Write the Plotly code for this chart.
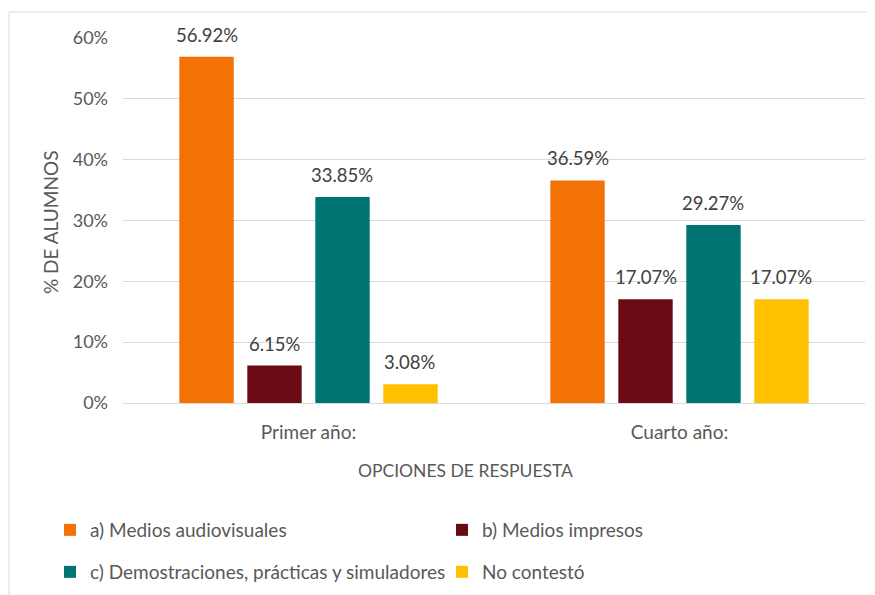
import plotly.graph_objects as go

categories = ["Primer año:", "Cuarto año:"]
series_names = ["a) Medios audiovisuales", "b) Medios impresos",
                "c) Demostraciones, prácticas y simuladores", "No contestó"]
values = [
    [0.5692, 0.3659],
    [0.0615, 0.1707],
    [0.3385, 0.2927],
    [0.0308, 0.1707],
]
colors = ["#F37206", "#6B0A14", "#007472", "#FFC000"]
legend_ids = ["legend", "legend", "legend2", "legend2"]

FONT = "Lato"
# page has an 8px body margin; compensate so the figure fills the window
OFF = 8
W, H = 875 - OFF, 595 - OFF
PL, PR, PT, PB = 123, 865, 38, 403          # plot area in page pixels
L, R, T, B = PL - OFF, 875 - PR, PT - OFF, 595 - PB
pw, ph = PR - PL, PB - PT

def px(x):
    return (x - PL) / pw

def py(y):
    return (PB - y) / ph

BARGAP, GROUPGAP = 0.267, 0.2
slot = pw / len(categories) * (1 - BARGAP) / len(series_names)

fig = go.Figure()
annotations = []
n = len(series_names)
for i, (name, vals, col, lg) in enumerate(zip(series_names, values, colors, legend_ids)):
    fig.add_trace(go.Bar(
        x=categories, y=vals, name=name, marker_color=col,
        marker_line_width=0, legend=lg,
    ))
    for c, v in zip(categories, vals):
        annotations.append(dict(
            x=c, y=v, xref="x", yref="y", text=f"{v*100:.2f}%",
            showarrow=False, xanchor="center", yanchor="middle",
            xshift=(i - (n - 1) / 2) * slot, yshift=22,
            font=dict(family=FONT, size=18.5, color="#404040"),
        ))

leg_common = dict(orientation="h", xanchor="left", yanchor="middle",
                  entrywidth=347, entrywidthmode="pixels",
                  font=dict(family=FONT, size=19, color="#595959"),
                  itemwidth=30, tracegroupgap=0)

annotations += [
    dict(text="% DE ALUMNOS", xref="paper", yref="paper", x=px(51), y=py(222),
         textangle=-90, showarrow=False, xanchor="center", yanchor="middle",
         font=dict(family=FONT, size=19, color="#595959")),
    dict(text="OPCIONES DE RESPUESTA", xref="paper", yref="paper", x=px(465), y=py(470),
         showarrow=False, xanchor="center", yanchor="middle",
         font=dict(family=FONT, size=17.5, color="#595959")),
]

fig.update_layout(
    width=W, height=H,
    margin=dict(l=L, r=R, t=T, b=B, autoexpand=False),
    paper_bgcolor="white", plot_bgcolor="white",
    barmode="group", bargap=BARGAP, bargroupgap=GROUPGAP,
    font=dict(family=FONT, color="#595959"),
    showlegend=True,
    legend=dict(x=px(50), y=py(530), **leg_common),
    legend2=dict(x=px(50), y=py(572), **leg_common),
    yaxis=dict(range=[0, 0.6], dtick=0.1, tickformat=".0%",
               showgrid=True, gridcolor="#D9D9D9", gridwidth=1,
               zeroline=False, showline=False, automargin=False,
               tickfont=dict(family=FONT, size=18, color="#595959"),
               ticks="", ticklen=0, ticklabelstandoff=14),
    xaxis=dict(showline=True, linecolor="#D9D9D9", linewidth=1, automargin=False,
               tickfont=dict(family=FONT, size=19, color="#595959"),
               ticks="", ticklen=0, ticklabelstandoff=12),
    shapes=[
        dict(type="line", xref="paper", yref="paper", x0=px(9), x1=px(880),
             y0=py(12), y1=py(12), line=dict(color="#D9D9D9", width=1)),
        dict(type="line", xref="paper", yref="paper", x0=px(9), x1=px(9),
             y0=py(12), y1=py(600), line=dict(color="#D9D9D9", width=1)),
    ],
    annotations=annotations,
)

fig.write_html("out.html")
